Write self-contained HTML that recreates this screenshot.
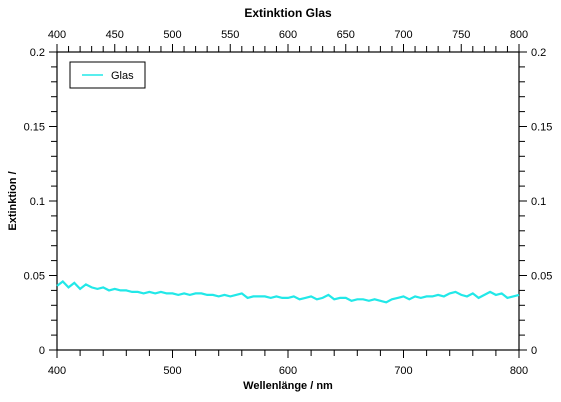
<!DOCTYPE html>
<html><head><meta charset="utf-8"><style>
body{margin:0;background:#fff;}
svg{display:block;font-family:"Liberation Sans",sans-serif;}
</style></head><body>
<svg id="c" width="561" height="402"></svg>
<script>
const wavelengths=[];for(let w=400;w<=800;w+=5)wavelengths.push(w);
const glasValues=[0.043,0.046,0.042,0.045,0.041,0.044,0.042,0.041,0.042,0.040,0.041,0.040,0.040,0.039,0.039,0.038,0.039,0.038,0.039,0.038,0.038,0.037,0.038,0.037,0.038,0.038,0.037,0.037,0.036,0.037,0.036,0.037,0.038,0.035,0.036,0.036,0.036,0.035,0.036,0.035,0.035,0.036,0.034,0.035,0.036,0.034,0.035,0.037,0.034,0.035,0.035,0.033,0.034,0.034,0.033,0.034,0.033,0.032,0.034,0.035,0.036,0.034,0.036,0.035,0.036,0.036,0.037,0.036,0.038,0.039,0.037,0.036,0.038,0.035,0.037,0.039,0.037,0.038,0.035,0.036,0.037];
const xTopLabels=[400,450,500,550,600,650,700,750,800];
const xBottomLabels=[400,500,600,700,800];
const yLabels=[0,0.05,0.1,0.15,0.2];
const L=57,R=519,T=52,B=350;
const xs=v=>L+(v-400)/400*(R-L);
const ys=v=>B-v/0.2*(B-T);
const svg=document.getElementById('c');const NS='http://www.w3.org/2000/svg';
function el(t,a,txt){const e=document.createElementNS(NS,t);for(const k in a)e.setAttribute(k,a[k]);if(txt!==undefined)e.textContent=txt;svg.appendChild(e);return e;}
let e=el('rect',{x:L,y:T,width:R-L,height:B-T,fill:'none',stroke:'#000','stroke-width':1.2});

// bottom ticks
for(let v=400;v<=800;v+=20){const m=v%100===0;el('line',{x1:xs(v),x2:xs(v),y1:B,y2:B+(m?8:6),stroke:'#000'});}
for(let v=400;v<=800;v+=10){const m=v%50===0;el('line',{x1:xs(v),x2:xs(v),y1:T,y2:T-(m?8:6),stroke:'#000'});}
for(let i=0;i<=20;i++){const v=i*0.01,m=i%5===0;el('line',{x1:L,x2:L-(m?8:6),y1:ys(v),y2:ys(v),stroke:'#000'});el('line',{x1:R,x2:R+(m?8:6),y1:ys(v),y2:ys(v),stroke:'#000'});}
xBottomLabels.forEach(v=>{const t=el('text',{x:xs(v),y:B+24,'font-size':11,'text-anchor':'middle'},v);});
xTopLabels.forEach(v=>{const t=el('text',{x:xs(v),y:T-14,'font-size':11,'text-anchor':'middle'},v);});
yLabels.forEach(v=>{const t=el('text',{x:L-12,y:ys(v)+4,'font-size':11,'text-anchor':'end'},v);
const t2=el('text',{x:R+12,y:ys(v)+4,'font-size':11},v);});
let p='';wavelengths.forEach((w,i)=>{p+=(i?'L':'M')+xs(w).toFixed(1)+','+ys(glasValues[i]).toFixed(1);});
e=el('path',{d:p,fill:'none',stroke:'#22e8e8','stroke-width':2.2});

e=el('text',{x:288,y:17,'font-size':12,'font-weight':'bold','text-anchor':'middle'},'Extinktion Glas');

e=el('text',{x:288,y:389,'font-size':11,'font-weight':'bold','text-anchor':'middle'},'Wellenlänge / nm');

e=el('text',{x:0,y:0,'font-size':11,'font-weight':'bold','text-anchor':'middle',transform:'translate(16,201) rotate(-90)'},'Extinktion /');

e=el('rect',{x:70,y:62,width:75,height:26,fill:'#fff',stroke:'#000'});

el('line',{x1:82,x2:103,y1:75,y2:75,stroke:'#22e8e8','stroke-width':1.5});
e=el('text',{x:111,y:79,'font-size':11},'Glas');

</script></body></html>
